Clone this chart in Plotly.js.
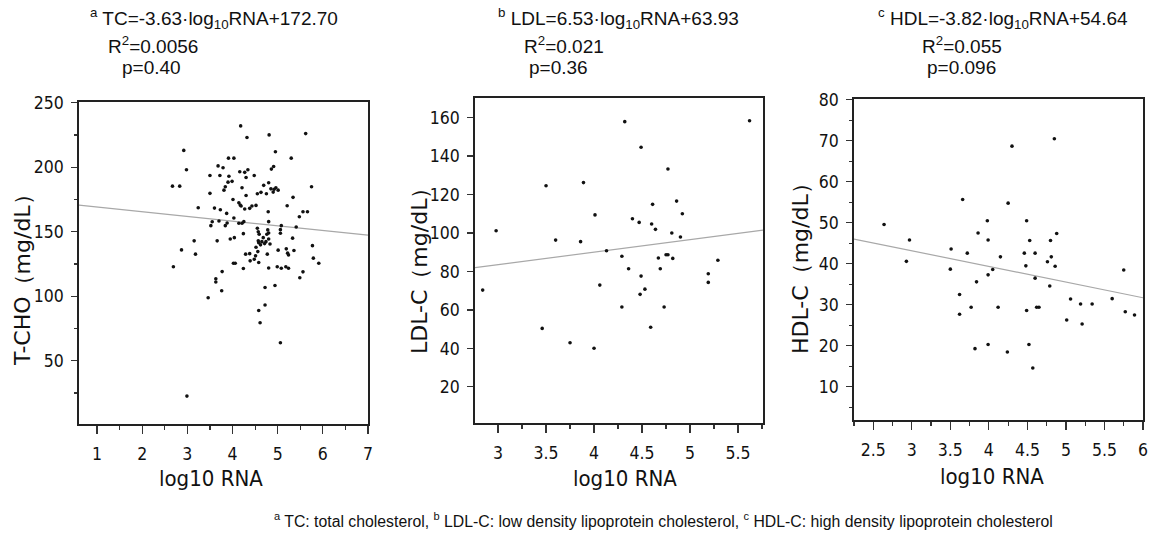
<!DOCTYPE html>
<html><head><meta charset="utf-8">
<script src="https://cdn.plot.ly/plotly-3.0.1.min.js"></script>
<style>html,body{margin:0;padding:0;background:#fff}#chart{width:1152px;height:542px}</style>
</head><body><div id="chart"></div>
<script>
// ---- Data ----
const tcX = [4.18,4.32,4.81,5.62,2.92,4.95,3.91,4.03,5.30,2.98,3.68,3.79,4.91,4.86,4.16,4.27,4.34,3.50,3.72,3.92,4.48,4.30,3.99,3.90,3.84,3.81,4.69,4.80,4.85,4.92,4.96,5.01,4.75,4.90,4.21,4.55,4.63,3.50,4.30,5.75,5.34,4.01,4.14,4.19,4.27,4.38,4.43,4.52,4.17,5.21,3.24,3.60,3.73,3.87,4.79,5.56,5.66,5.48,4.03,3.55,3.70,3.88,4.21,4.25,4.14,4.80,5.08,5.41,3.52,3.84,4.55,4.57,4.59,4.78,4.80,5.06,4.76,5.06,4.24,4.04,3.95,4.68,4.74,4.65,4.71,4.83,4.80,4.57,4.58,4.62,4.52,5.33,3.15,3.66,3.18,2.87,4.29,4.38,4.56,4.51,4.48,4.39,4.58,4.77,5.01,5.19,5.22,5.36,5.24,5.77,5.79,5.91,4.02,4.06,4.24,3.77,4.80,4.99,5.08,5.18,5.24,5.56,3.63,3.63,3.46,3.76,4.72,4.94,4.58,4.72,4.61,5.06,2.99,2.67,2.83,2.69,5.49];
const tcY = [232,223,225,226,213,212,207,207,207,198,201,199.5,200.5,198.5,196.4,196,198,193.6,193.6,193,193.6,192,189,188.4,184.8,182.2,185.9,187.9,183.2,182.8,184,182.2,179.4,180.7,184,179.4,180.5,179.7,178,184.8,176.6,175,172.4,169.9,167.6,168.1,169.9,170.4,170.6,170.1,168.6,168.3,167,164.2,165.5,165.5,165.5,161.6,160.6,157.7,158.3,156.8,156.5,157.8,156.5,157.8,154.7,153.7,154.7,154.7,152.7,150,148,151.4,149,151.6,148,148.8,148.5,145.4,144.4,145.4,142.3,142.3,140.8,140.5,144.4,143,141.5,139.8,138,145,142.9,142.9,132.6,135.9,132.6,133,134.6,131.3,128.7,127.4,126.1,132.6,135.7,136.7,133.4,135.4,132,139.2,129.5,125.6,125.6,125.6,121.5,119.1,121.9,122.9,121.7,122.9,121.7,118.9,113.5,111,98.8,104.2,106.8,108.3,89,93.2,79.5,63.9,22.6,185.3,185.3,122.8,114.3];

const ldlX = [2.84,2.98,3.46,3.50,3.60,3.75,3.86,3.89,4.00,4.01,4.06,4.13,4.29,4.29,4.32,4.36,4.40,4.47,4.48,4.49,4.49,4.53,4.59,4.60,4.61,4.64,4.67,4.69,4.73,4.75,4.77,4.77,4.81,4.82,4.86,4.90,4.92,5.19,5.19,5.29,5.62];
const ldlY = [70.3,101.2,50.4,124.6,96.3,42.9,95.5,126.2,40.1,109.4,72.9,90.8,87.9,61.5,157.9,81.4,107.4,105.5,68.1,144.6,77.6,70.8,51,104.7,114.9,101.9,87,81.4,61.5,88.7,88.7,133.3,100,86.8,116.6,97.9,110,78.8,74.3,85.8,158.4];

const hdlX = [2.64,2.97,2.93,3.51,3.50,3.66,3.72,3.62,3.62,3.77,3.84,3.86,3.82,3.98,3.99,3.99,4.05,3.99,4.12,4.15,4.25,4.30,4.24,4.46,4.48,4.49,4.53,4.49,4.52,4.57,4.60,4.60,4.62,4.65,4.76,4.80,4.81,4.79,4.85,4.88,4.86,5.01,5.06,5.19,5.21,5.34,5.60,5.75,5.77,5.89];
const hdlY = [49.6,45.8,40.6,43.6,38.7,55.7,42.6,32.5,27.7,29.4,35.6,47.5,19.3,50.5,45.8,37.3,38.6,20.3,29.4,41.7,54.8,68.7,18.5,42.6,39.5,50.5,45.7,28.6,20.3,14.6,42.6,36.5,29.4,29.4,40.5,45.7,41.7,34.6,70.5,47.4,39.4,26.3,31.4,30.2,25.3,30.2,31.5,38.5,28.3,27.5];

// regression equations as printed above each panel: [slope, intercept]
const tcFit = [-3.63, 172.70];
const ldlFit = [6.53, 63.93];
const hdlFit = [-3.82, 54.64];

const headers = [
  ["<sup>a</sup> TC=-3.63·log<sub>10</sub>RNA+172.70", "R<sup>2</sup>=0.0056", "p=0.40"],
  ["<sup>b</sup> LDL=6.53·log<sub>10</sub>RNA+63.93", "R<sup>2</sup>=0.021", "p=0.36"],
  ["<sup>c</sup> HDL=-3.82·log<sub>10</sub>RNA+54.64", "R<sup>2</sup>=0.055", "p=0.096"]
];
const yTitles = ["T-CHO（mg/dL）", "LDL-C（mg/dL）", "HDL-C（mg/dL）"];
const xTitle = "log10 RNA";
const footnote = "<sup>a</sup> TC: total cholesterol, <sup>b</sup> LDL-C: low density lipoprotein cholesterol, <sup>c</sup> HDL-C: high density lipoprotein cholesterol";

// ---- Layout ----
const W = 1152, H = 542;
const fx = v => v / W, fy = v => 1 - v / H;
const xRanges = [[0.6, 7], [2.76, 5.76], [2.25, 6]];
const yRanges = [[1, 250.5], [1.2, 170.2], [1.9, 80.2]];
const boxes = [[79, 368, 102, 424], [475, 763, 98, 423], [854, 1143, 99, 420]];
const xDt = [1, 0.5, 0.5], xMinor = [0.5, 0.25, 0.25];
const yDt = [50, 20, 10], yMinor = [25, null, 5];

const condensed = 'DejaVu Sans Condensed, Liberation Sans Narrow, sans-serif';
const fits = [tcFit, ldlFit, hdlFit];
const xs = [tcX, ldlX, hdlX], ys = [tcY, ldlY, hdlY];
const traces = [];
const layout = {
  width: W, height: H, margin: {l: 0, r: 0, t: 0, b: 0},
  paper_bgcolor: '#fff', plot_bgcolor: '#fff', showlegend: false,
  annotations: []
};
const tickFont = {family: condensed, size: 17.5, color: '#111'};
for (let i = 0; i < 3; i++) {
  const sx = i === 0 ? '' : String(i + 1);
  const f = fits[i], r = xRanges[i];
  traces.push({type: 'scatter', mode: 'lines', x: [r[0], r[1]], y: [f[0] * r[0] + f[1], f[0] * r[1] + f[1]],
    xaxis: 'x' + sx, yaxis: 'y' + sx, line: {color: '#a8a8a8', width: 1.2}, hoverinfo: 'skip'});
  traces.push({type: 'scatter', mode: 'markers', x: xs[i], y: ys[i], xaxis: 'x' + sx, yaxis: 'y' + sx,
    marker: {color: '#111', size: 3.6, symbol: 'circle'}});
  const b = boxes[i];
  const common = {showline: true, mirror: true, linecolor: '#222', linewidth: 1.8, showgrid: false,
    zeroline: false, ticks: 'outside', tickcolor: '#333', tickwidth: 1.2, tickfont: tickFont};
  layout['xaxis' + sx] = Object.assign({}, common, {
    domain: [fx(b[0]), fx(b[1])], range: r, anchor: 'y' + sx, tick0: 0, dtick: xDt[i], ticklen: 8,
    ticklabelstandoff: 5,
    minor: {ticks: 'outside', ticklen: 4, dtick: xMinor[i], tick0: 0, tickcolor: '#333', tickwidth: 1.2}
  });
  const ya = Object.assign({}, common, {
    domain: [fy(b[3]), fy(b[2])], range: yRanges[i], anchor: 'x' + sx, tick0: 0, dtick: yDt[i], ticklen: 6,
    ticklabelstandoff: 4
  });
  if (yMinor[i]) ya.minor = {ticks: 'outside', ticklen: 3, dtick: yMinor[i], tick0: 0, tickcolor: '#333', tickwidth: 1.2};
  layout['yaxis' + sx] = ya;
}

// headers
const hdrPos = [[88, 106, 120], [496, 522, 527], [876, 920, 925]];
const hdrY = [19, 45, 67];
const hfont = {family: 'Liberation Sans, Arial, sans-serif', size: 19, color: '#111'};
for (let i = 0; i < 3; i++) {
  for (let k = 0; k < 3; k++) {
    layout.annotations.push({xref: 'paper', yref: 'paper', x: fx(hdrPos[i][k]), y: fy(hdrY[k]),
      xanchor: 'left', yanchor: 'middle', showarrow: false, text: headers[i][k], font: hfont});
  }
}
// axis titles
const yTitleX = [22, 419, 800], yTitleY = [275, 266, 263];
const xTitleX = [211, 625, 992], xTitleY = [478, 478, 476];
for (let i = 0; i < 3; i++) {
  layout.annotations.push({xref: 'paper', yref: 'paper', x: fx(yTitleX[i]), y: fy(yTitleY[i]),
    xanchor: 'center', yanchor: 'middle', textangle: -90, showarrow: false, text: yTitles[i],
    font: {family: 'DejaVu Sans, sans-serif', size: 22, color: '#111'}});
  layout.annotations.push({xref: 'paper', yref: 'paper', x: fx(xTitleX[i]), y: fy(xTitleY[i]),
    xanchor: 'center', yanchor: 'middle', showarrow: false, text: xTitle,
    font: {family: condensed, size: 22, color: '#111'}});
}
layout.annotations.push({xref: 'paper', yref: 'paper', x: fx(272), y: fy(520), xanchor: 'left', yanchor: 'middle',
  showarrow: false, text: footnote, font: {family: 'Liberation Sans, Arial, sans-serif', size: 15.8, color: '#111'}});

Plotly.newPlot('chart', traces, layout, {staticPlot: true, displayModeBar: false});
</script></body></html>
